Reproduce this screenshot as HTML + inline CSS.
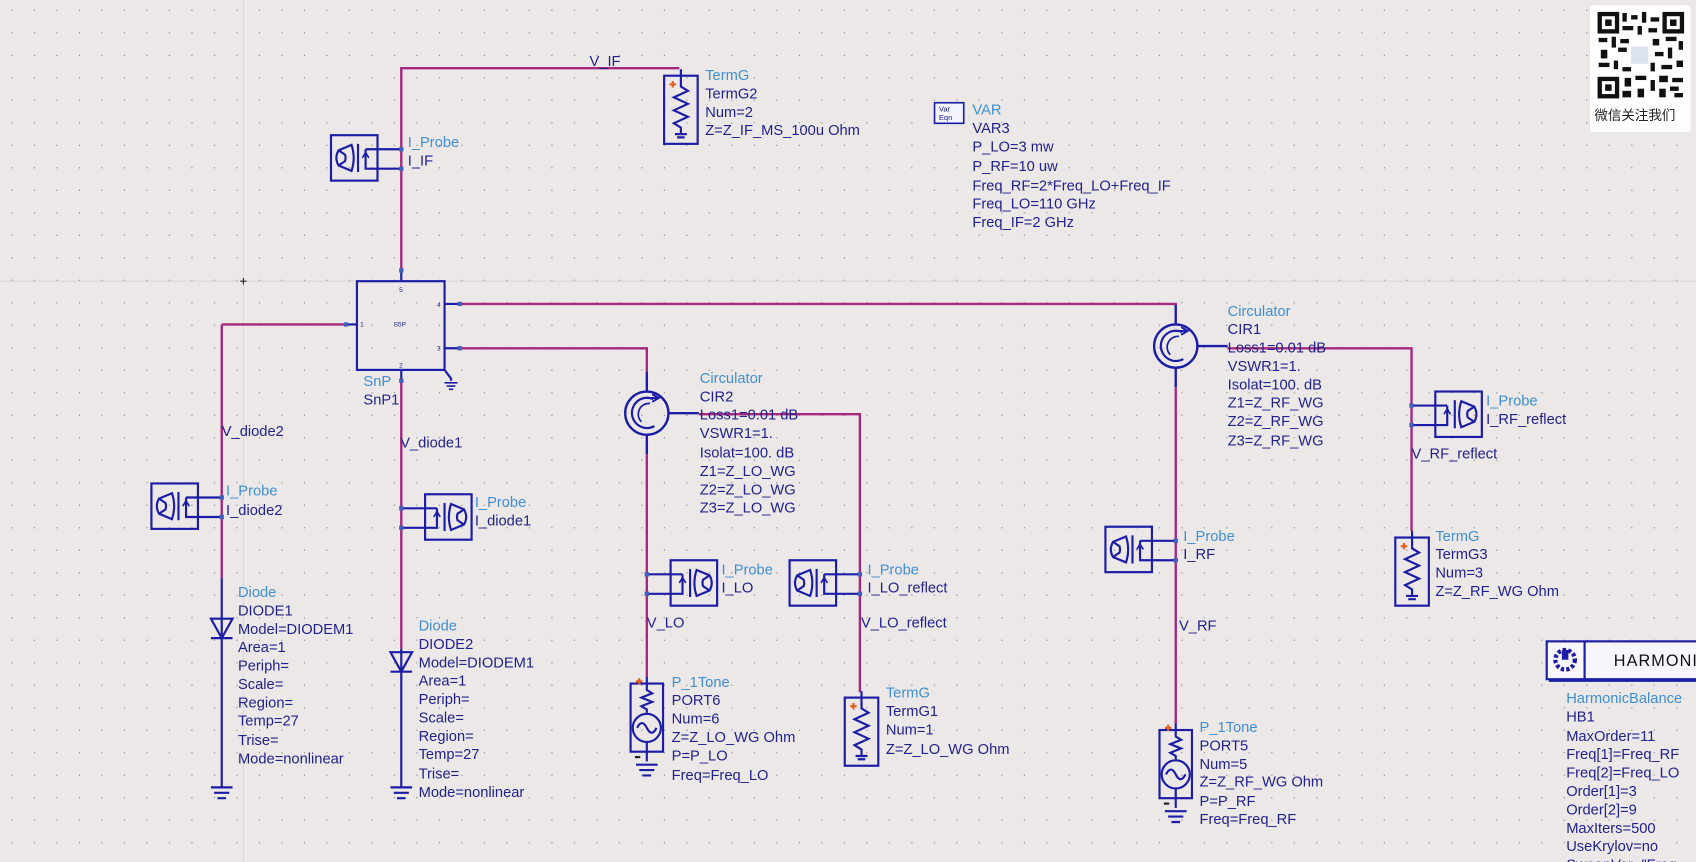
<!DOCTYPE html>
<html><head><meta charset="utf-8"><style>
html,body{margin:0;padding:0;background:#ece8e8;overflow:hidden}
svg{display:block}
text{font-family:"Liberation Sans",sans-serif;font-size:13.6px;fill:#22228c}
.t{fill:#3f8fd2}
</style></head><body>
<svg width="1696" height="862" viewBox="0 0 1568 797" preserveAspectRatio="none" xmlns="http://www.w3.org/2000/svg">
<defs>
<pattern id="g" width="20.8" height="20.8" patternUnits="userSpaceOnUse" x="0" y="0">
<rect x="10.5" y="9" width="1.1" height="1.1" fill="#8a8a8a"/>
</pattern>
<g id="pL" fill="none" stroke="#1c1ca6" stroke-width="2">
<rect x="-65" y="0" width="43" height="42"/>
<path d="M-46,9 L-58,14 Q-62,21 -58,28 L-46,33 Q-42,21 -46,9 Z"/>
<path d="M-58,14 L-52,18 Q-51,21 -52,24 L-58,28"/>
<path d="M-40,8 V34"/>
<path d="M-33,13 H0 M-33,13 V31 H0"/>
<path d="M-33,28 V18 M-36,21 L-33,16 L-30,21" stroke-width="1.5"/>
<rect x="-2" y="11" width="4" height="4" fill="#4060c0" stroke="none"/>
<rect x="-2" y="29" width="4" height="4" fill="#4060c0" stroke="none"/>
</g>
<g id="gnd" stroke="#1c1ca6" stroke-width="2"><path d="M-10,0 H10 M-7,5 H7 M-4,10 H4"/></g>
<g id="term" fill="none" stroke="#1c1ca6" stroke-width="2">
<rect x="0" y="0" width="31" height="63"/>
<path d="M15.5,-6 V10 L22,14 L9,20 L22,26 L9,32 L22,38 L9,44 L15.5,48 V54"/>
<path d="M10,54 H21 M12,57 H19" />
<path d="M5,8 H11 M8,5 V11" stroke="#e06020"/>
</g>
<g id="port" fill="none" stroke="#1c1ca6" stroke-width="2">
<rect x="0" y="0" width="30" height="63"/>
<path d="M15,-6 V6 L20,9 L10,13 L20,17 L10,21 L15,24 V27"/>
<circle cx="15" cy="41" r="13"/>
<path d="M6,41 Q10.5,32 15,41 T24,41"/>
<path d="M15,54 V72"/>
<path d="M5,-2 H11 M8,-5 V1" stroke="#e06020"/>
<path d="M4,68 H9" stroke="#222"/>
</g>
<g id="circ" fill="none" stroke="#1c1ca6" stroke-width="2.2">
<circle r="20"/>
<path d="M6,-13 A14,14 0 1 0 7,12" stroke-width="2"/>
<path d="M3,-9 A10,10 0 0 0 -5,8" stroke-width="1.6"/>
<path d="M-2,-14 H9 M5,-17.5 L11,-14 L5,-10.5" stroke-width="1.8"/>
<path d="M0,-20 V-38 M20,0 H48 M0,20 V38"/>
</g>
<g id="dio" fill="none" stroke="#1c1ca6" stroke-width="2"><path d="M-10,0 H10 L0,18 Z M-10,18 H10"/></g>
</defs>
<rect width="1568" height="797" fill="#ece8e8"/>
<rect width="1568" height="797" fill="url(#g)"/>
<path d="M0,260 H1568 M225,0 V797" stroke="#dad6d6" stroke-width="1"/>
<path d="M222,260 H228 M225,257 V263" stroke="#222"/>

<g fill="none" stroke="#a3287e" stroke-width="2.2">
<path d="M371,250 V63 H627 V64"/>
<path d="M205,300 H320 M205,300 V535"/>
<path d="M371,350 V600"/>
<path d="M425,281 H1087 V282"/>
<path d="M425,322 H598 V344"/>
<path d="M646,383 H795 V640"/>
<path d="M598,420 V626"/>
<path d="M1135,322 H1305 V491"/>
<path d="M1087,358 V669"/>
</g>

<g fill="none" stroke="#1c1ca6" stroke-width="2">
<rect x="330" y="260" width="81" height="82"/>
<path d="M371,250 V260 M320,300 H330 M411,281 H425 M411,322 H425 M371,342 V352 M411,342 L417,350 V352"/>
</g>
<path d="M411,354 H423 M413,357 H421 M415,360 H419" stroke="#1c1ca6" stroke-width="1.5"/>
<g fill="#4060c0"><rect x="369" y="248" width="4" height="4"/><rect x="318" y="298" width="4" height="4"/><rect x="423" y="279" width="4" height="4"/><rect x="423" y="320" width="4" height="4"/><rect x="369" y="350" width="4" height="4"/></g>
<g><text x="369" y="270" style="font-size:6px">5</text><text x="333" y="302" style="font-size:6px">1</text><text x="404" y="284" style="font-size:6px">4</text><text x="404" y="324" style="font-size:6px">3</text><text x="369" y="340" style="font-size:6px">2</text><text x="364" y="302" style="font-size:6px">S5P</text></g>
<text class="t" x="336" y="357">SnP</text><text x="336" y="374">SnP1</text>

<text x="545" y="61">V_IF</text>
<use href="#pL" x="371" y="125"/>
<text class="t" x="377" y="136">I_Probe</text><text x="377" y="153">I_IF</text>
<use href="#term" x="614" y="70"/>
<text class="t" x="652" y="74">TermG</text><text x="652" y="91">TermG2</text><text x="652" y="108">Num=2</text><text x="652" y="125">Z=Z_IF_MS_100u Ohm</text>

<rect x="864" y="95" width="27" height="19" fill="#f4f4ff" stroke="#1c1ca6" stroke-width="1.5"/>
<text x="868" y="103" style="font-size:7px">Var</text><text x="868" y="111" style="font-size:7px">Eqn</text>
<text class="t" x="899" y="106">VAR</text><text x="899" y="123">VAR3</text><text x="899" y="140">P_LO=3 mw</text><text x="899" y="158">P_RF=10 uw</text><text x="899" y="176">Freq_RF=2*Freq_LO+Freq_IF</text><text x="899" y="193">Freq_LO=110 GHz</text><text x="899" y="210">Freq_IF=2 GHz</text>

<text x="205" y="403">V_diode2</text>
<use href="#pL" x="205" y="447"/>
<text class="t" x="209" y="458">I_Probe</text><text x="209" y="476">I_diode2</text>
<path d="M205,535 V728" stroke="#1c1ca6" stroke-width="2"/>
<use href="#dio" x="205" y="572"/>
<use href="#gnd" x="205" y="728"/>
<g><text class="t" x="220" y="552">Diode</text><text x="220" y="569">DIODE1</text><text x="220" y="586">Model=DIODEM1</text><text x="220" y="603">Area=1</text><text x="220" y="620">Periph=</text><text x="220" y="637">Scale=</text><text x="220" y="654">Region=</text><text x="220" y="671">Temp=27</text><text x="220" y="689">Trise=</text><text x="220" y="706">Mode=nonlinear</text></g>

<text x="370" y="414">V_diode1</text>
<use href="#pL" transform="translate(371 457) scale(-1 1)"/>
<text class="t" x="439" y="469">I_Probe</text><text x="439" y="486">I_diode1</text>
<path d="M371,600 V728" stroke="#1c1ca6" stroke-width="2"/>
<use href="#dio" x="371" y="603"/>
<use href="#gnd" x="371" y="728"/>
<g><text class="t" x="387" y="583">Diode</text><text x="387" y="600">DIODE2</text><text x="387" y="617">Model=DIODEM1</text><text x="387" y="634">Area=1</text><text x="387" y="651">Periph=</text><text x="387" y="668">Scale=</text><text x="387" y="685">Region=</text><text x="387" y="702">Temp=27</text><text x="387" y="720">Trise=</text><text x="387" y="737">Mode=nonlinear</text></g>

<use href="#circ" x="598" y="382"/>
<text class="t" x="647" y="354">Circulator</text><text x="647" y="371">CIR2</text><text x="647" y="388">Loss1=0.01 dB</text><text x="647" y="405">VSWR1=1.</text><text x="647" y="423">Isolat=100. dB</text><text x="647" y="440">Z1=Z_LO_WG</text><text x="647" y="457">Z2=Z_LO_WG</text><text x="647" y="474">Z3=Z_LO_WG</text>
<use href="#pL" transform="translate(598 518) scale(-1 1)"/>
<text class="t" x="667" y="531">I_Probe</text><text x="667" y="548">I_LO</text>
<use href="#pL" x="795" y="518"/>
<text class="t" x="802" y="531">I_Probe</text><text x="802" y="548">I_LO_reflect</text>
<text x="598" y="580">V_LO</text>
<text x="796" y="580">V_LO_reflect</text>
<use href="#port" x="583" y="632"/>
<use href="#gnd" x="598" y="707"/>
<text class="t" x="621" y="635">P_1Tone</text><text x="621" y="652">PORT6</text><text x="621" y="669">Num=6</text><text x="621" y="686">Z=Z_LO_WG Ohm</text><text x="621" y="703">P=P_LO</text><text x="621" y="721">Freq=Freq_LO</text>
<use href="#term" x="781" y="645"/>
<text class="t" x="819" y="645">TermG</text><text x="819" y="662">TermG1</text><text x="819" y="679">Num=1</text><text x="819" y="697">Z=Z_LO_WG Ohm</text>

<use href="#circ" x="1087" y="320"/>
<text class="t" x="1135" y="292">Circulator</text><text x="1135" y="309">CIR1</text><text x="1135" y="326">Loss1=0.01 dB</text><text x="1135" y="343">VSWR1=1.</text><text x="1135" y="360">Isolat=100. dB</text><text x="1135" y="377">Z1=Z_RF_WG</text><text x="1135" y="394">Z2=Z_RF_WG</text><text x="1135" y="412">Z3=Z_RF_WG</text>
<use href="#pL" transform="translate(1305 362) scale(-1 1)"/>
<text class="t" x="1374" y="375">I_Probe</text><text x="1374" y="392">I_RF_reflect</text>
<text x="1305" y="424">V_RF_reflect</text>
<use href="#term" x="1290" y="497"/>
<text class="t" x="1327" y="500">TermG</text><text x="1327" y="517">TermG3</text><text x="1327" y="534">Num=3</text><text x="1327" y="551">Z=Z_RF_WG Ohm</text>
<use href="#pL" x="1087" y="487"/>
<text class="t" x="1094" y="500">I_Probe</text><text x="1094" y="517">I_RF</text>
<text x="1090" y="583">V_RF</text>
<use href="#port" x="1072" y="675"/>
<use href="#gnd" x="1087" y="750"/>
<text class="t" x="1109" y="677">P_1Tone</text><text x="1109" y="694">PORT5</text><text x="1109" y="711">Num=5</text><text x="1109" y="727">Z=Z_RF_WG Ohm</text><text x="1109" y="745">P=P_RF</text><text x="1109" y="762">Freq=Freq_RF</text>

<rect x="1430" y="593" width="145" height="35" fill="#f6f6fb" stroke="#1c1ca6" stroke-width="2"/>
<path d="M1465,593 V628" stroke="#1c1ca6" stroke-width="2"/>
<path d="M1432,629 H1568" stroke="#1c1ca6" stroke-width="3"/>
<circle cx="1447" cy="610" r="9" fill="none" stroke="#1c1ca6" stroke-width="4" stroke-dasharray="3 2"/>
<rect x="1444" y="601" width="6" height="9" fill="#1c1ca6"/>
<text x="1492" y="616" style="font-size:15px;fill:#111;letter-spacing:1px">HARMONI</text>
<g><text class="t" x="1448" y="650">HarmonicBalance</text><text x="1448" y="667">HB1</text><text x="1448" y="685">MaxOrder=11</text><text x="1448" y="702">Freq[1]=Freq_RF</text><text x="1448" y="719">Freq[2]=Freq_LO</text><text x="1448" y="736">Order[1]=3</text><text x="1448" y="753">Order[2]=9</text><text x="1448" y="770">MaxIters=500</text><text x="1448" y="787">UseKrylov=no</text><text x="1448" y="804">SweepVar="Freq</text></g>

<rect x="1470" y="5" width="93" height="117" fill="#fff" rx="3"/>
<g fill="#111">
<rect x="1477" y="11" width="80" height="80" fill="#fff"/>
<g fill="#111">
<rect x="1500" y="12" width="4" height="8"/><rect x="1508" y="14" width="6" height="4"/><rect x="1518" y="11" width="4" height="10"/><rect x="1526" y="16" width="8" height="4"/>
<rect x="1500" y="24" width="10" height="4"/><rect x="1514" y="24" width="4" height="8"/><rect x="1524" y="26" width="8" height="4"/>
<rect x="1478" y="35" width="8" height="4"/><rect x="1490" y="34" width="4" height="10"/><rect x="1498" y="36" width="8" height="4"/><rect x="1528" y="36" width="6" height="6"/><rect x="1540" y="34" width="10" height="4"/><rect x="1552" y="38" width="4" height="8"/>
<rect x="1480" y="46" width="6" height="8"/><rect x="1496" y="44" width="8" height="4"/><rect x="1530" y="48" width="8" height="4"/><rect x="1542" y="44" width="4" height="10"/>
<rect x="1478" y="58" width="10" height="4"/><rect x="1492" y="56" width="4" height="8"/><rect x="1500" y="62" width="8" height="4"/><rect x="1526" y="58" width="4" height="8"/><rect x="1536" y="60" width="10" height="4"/><rect x="1550" y="56" width="6" height="6"/>
<rect x="1502" y="72" width="6" height="8"/><rect x="1512" y="70" width="10" height="4"/><rect x="1526" y="74" width="4" height="10"/><rect x="1534" y="70" width="8" height="6"/><rect x="1546" y="72" width="10" height="4"/>
<rect x="1500" y="84" width="8" height="6"/><rect x="1514" y="82" width="6" height="8"/><rect x="1534" y="82" width="6" height="8"/><rect x="1544" y="80" width="8" height="4"/><rect x="1548" y="86" width="8" height="4"/>
</g>
<rect x="1477" y="11" width="20" height="20"/><rect x="1481" y="15" width="12" height="12" fill="#fff"/><rect x="1484" y="18" width="6" height="6"/>
<rect x="1537" y="11" width="20" height="20"/><rect x="1541" y="15" width="12" height="12" fill="#fff"/><rect x="1544" y="18" width="6" height="6"/>
<rect x="1477" y="71" width="20" height="20"/><rect x="1481" y="75" width="12" height="12" fill="#fff"/><rect x="1484" y="78" width="6" height="6"/>
<rect x="1508" y="43" width="16" height="16" fill="#dde3ee"/>
</g>
<text x="1474" y="111" style="font-family:'Liberation Sans','Noto Sans CJK SC',sans-serif;font-size:12.5px;fill:#222">微信关注我们</text>
</svg>
</body></html>
